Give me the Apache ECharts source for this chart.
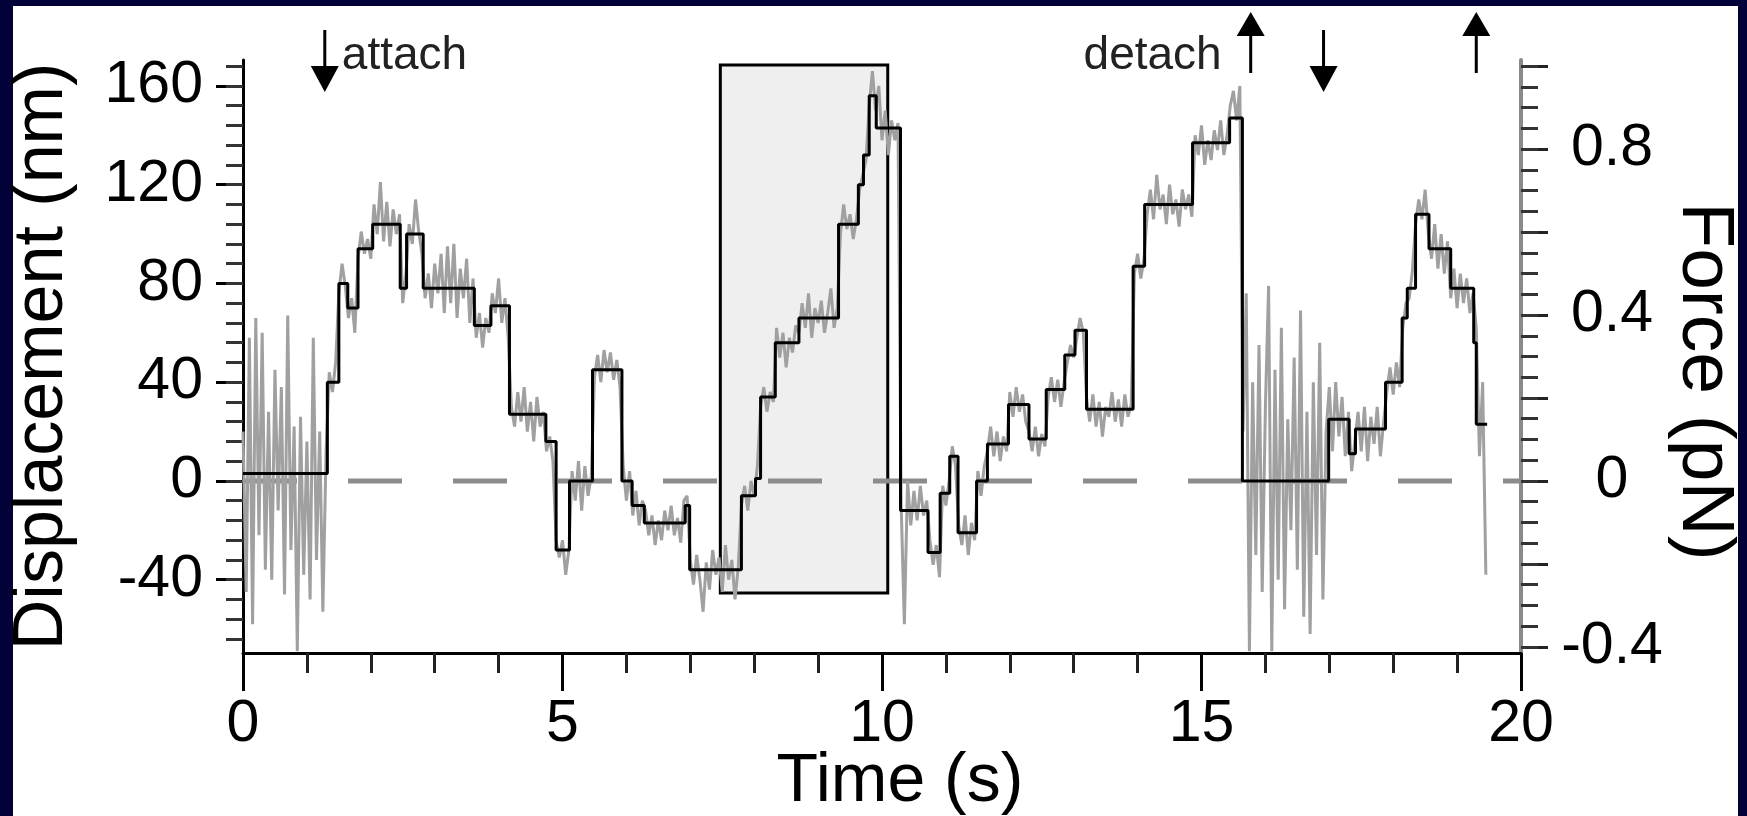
<!DOCTYPE html>
<html>
<head>
<meta charset="utf-8">
<script src="https://cdn.jsdelivr.net/npm/echarts@6/dist/echarts.min.js"></script>
<style>
  html, body { margin: 0; padding: 0; background: #020238; overflow: hidden; }
  #panel { position: absolute; left: 13px; top: 6px; width: 1725px; height: 810px; background: #ffffff; }
  #chart { position: absolute; left: 0; top: 0; width: 1747px; height: 816px; }
</style>
</head>
<body>
<div id="panel"></div>
<div id="chart"></div>
<script>
// Raw bead displacement (nm), sampled every 0.05 s from t = 0
const sampleStart = 0;
const sampleStep = 0.05;
const rawDisplacement = [
  20, -45, 58, -58, 66, -22, 60, -36, 28, -40,
  45, -12, 38, -46, 67, -28, 22, -69, 26, -38,
  16, -48, 58, -32, 20, -53, 12, 44, 36, 48,
  76, 88, 79, 66, 74, 60, 90, 101, 92, 98,
  90, 112, 100, 121, 97, 113, 95, 110, 100, 108,
  72, 84, 104, 96, 114, 101, 92, 74, 84, 70,
  88, 76, 92, 68, 95, 72, 96, 66, 86, 74,
  90, 64, 82, 58, 68, 54, 66, 60, 76, 68,
  82, 64, 74, 58, 30, 22, 36, 24, 38, 20,
  32, 16, 34, 22, 28, 12, 18, 8, -24, -31,
  -24, -38, -28, 4, -8, 8, -12, 6, -6, 2,
  42, 51, 40, 53, 44, 52, 41, 49, 38, 6,
  -8, 4, -14, -4, -18, -8, -12, -22, -14, -26,
  -16, -24, -12, -20, -10, -22, -15, -25, -8, -6,
  -32, -42, -30, -40, -53, -33, -44, -28, -38, -31,
  -45, -26, -40, -32, -48, -35, -10, -2, -12, 0,
  -6, 6, 30, 38, 28, 36, 32, 62, 50, 60,
  46, 58, 52, 63, 60, 72, 62, 76, 58, 70,
  64, 73, 60, 68, 78, 62, 70, 100, 112, 102,
  108, 98, 106, 118, 124, 130, 152, 166, 150, 160,
  138, 150, 132, 146, 138, 145, -10, -58, 0, -18,
  -4, -16, -2, -14, -8, -24, -34, -26, -39, -2,
  -10, 0, 14, 6, -18, -26, -14, -30, -17, -24,
  4, -6, 6, 12, 22, 10, 20, 8, 18, 12,
  36, 26, 38, 28, 35, 24, 20, 12, 22, 10,
  19, 14, 34, 42, 32, 41, 30, 40, 48, 55,
  50, 58, 66, 60, 34, 24, 35, 22, 32, 18,
  30, 26, 36, 24, 33, 22, 35, 26, 31, 84,
  92, 82, 90, 108, 118, 106, 124, 110, 116, 104,
  120, 108, 114, 103, 118, 110, 116, 107, 140, 132,
  144, 128, 138, 130, 142, 134, 146, 132, 140, 152,
  158, 146, 160, 20, 76, -69, 40, -30, 55, -45,
  30, 79, -69, 45, -40, 62, -52, 25, -20, 50,
  -36, 69, -55, 28, -62, 40, -30, 56, -48, 20,
  38, 12, 40, 18, 34, 10, 28, 4, 16, 28,
  12, 30, 8, 26, 15, 30, 10, 24, 36, 46,
  35, 48, 38, 62, 72, 74, 85, 104, 114, 106,
  118, 100, 90, 104, 86, 100, 84, 97, 74, 86,
  70, 84, 72, 82, 68, 76, 62, 10, 40, -38
];

// Step fit: each level starts at stepTimes[i] (s) and holds stepLevels[i] (nm)
const stepTimes = [
  0, 1.32, 1.50, 1.64, 1.80, 2.03, 2.46, 2.56, 2.82, 3.62,
  3.88, 4.17, 4.74, 4.90, 5.11, 5.47, 5.93, 6.09, 6.28, 6.92,
  6.99, 7.80, 8.02, 8.10, 8.33, 8.70, 9.32, 9.63, 9.71, 9.80,
  9.91, 10.29, 10.72, 10.91, 11.06, 11.19, 11.48, 11.65, 11.98, 12.30,
  12.57, 12.86, 13.02, 13.20, 13.93, 14.11, 14.86, 15.44, 15.64, 16.99,
  17.31, 17.41, 17.88, 18.14, 18.22, 18.35, 18.56, 18.90, 19.26, 19.30,
  19.47
];
const stepLevels = [
  3, 40, 80, 70, 94, 104, 78, 100, 78, 63,
  71, 27, 16, -28, 0, 45, 0, -10, -17, -10,
  -36, -6, 1, 34, 56, 66, 104, 120, 132, 156,
  143, -12, -29, -5, 10, -21, 0, 15, 31, 17,
  37, 51, 61, 29, 87, 112, 137, 147, 0, 25,
  11, 21, 40, 66, 78, 108, 94, 78, 56, 23,
  23
];

// Highlighted window (time span in s, displacement span in nm)
const windowTimes = [7.47, 10.09];
const windowDisp = [168.5, -45.4];

// Zero-displacement reference line
const baselineTimes = [0, 20];
const baselineDisp = [0, 0];

// Attachment / detachment events
const eventTimes = [1.28, 15.77, 16.91, 19.30];
const eventDirections = ['down', 'up', 'down', 'up'];
const eventLabels = ['attach', 'detach', '', ''];

// Axes
const dispRange = [-69.7, 170.5];
const dispLabelTicks = [-40, 0, 40, 80, 120, 160];
const dispMinorTicks = [-64, -56, -48, -40, -32, -24, -16, -8, 0, 8, 16, 24, 32, 40, 48,
  56, 64, 72, 80, 88, 96, 104, 112, 120, 128, 136, 144, 152, 160, 168];
const pNPerNm = 0.4 / 67.2; // trap stiffness
const forceMajorTicks = [-0.4, -0.2, 0, 0.2, 0.4, 0.6, 0.8, 1.0];
const forceLabelTicks = [-0.4, 0, 0.4, 0.8];
const forceMinorTicks = [-0.4, -0.35, -0.3, -0.25, -0.2, -0.15, -0.1, -0.05, 0, 0.05, 0.1,
  0.15, 0.2, 0.25, 0.3, 0.35, 0.4, 0.45, 0.5, 0.55, 0.6, 0.65, 0.7, 0.75, 0.8, 0.85, 0.9,
  0.95, 1.0];
const timeRange = [0, 20];
const timeLabelStep = 5;

const FONT = 'Liberation Sans, Arial, Helvetica, sans-serif';

const rawSeries = rawDisplacement.map((v, i) => [sampleStart + i * sampleStep, v]);
const stepSeries = stepTimes.map((t, i) => [t, stepLevels[i]]);
const baselineSeries = baselineTimes.map((t, i) => [t, baselineDisp[i]]);
const forceRange = dispRange.map(v => v * pNPerNm);

const chart = echarts.init(document.getElementById('chart'), null, { renderer: 'canvas' });

const tickLabelStyle = { fontSize: 59, lineHeight: 59, color: '#000', fontFamily: FONT };

chart.setOption({
  animation: false,
  textStyle: { fontFamily: FONT },
  grid: { left: 243, right: 226, top: 60, bottom: 163, containLabel: false, outerBoundsMode: 'none' },
  xAxis: {
    type: 'value',
    min: timeRange[0],
    max: timeRange[1],
    interval: timeLabelStep,
    axisLine: { onZero: false, lineStyle: { color: '#000', width: 3 } },
    axisTick: { length: 38, lineStyle: { color: '#000', width: 3 } },
    minorTick: { show: true, splitNumber: 5, length: 20, lineStyle: { color: '#222', width: 3 } },
    splitLine: { show: false },
    minorSplitLine: { show: false },
    axisLabel: Object.assign({ margin: 42 }, tickLabelStyle),
    name: 'Time (s)',
    nameLocation: 'middle',
    nameGap: 95,
    nameMoveOverlap: false,
    nameTextStyle: { fontSize: 68, lineHeight: 68, color: '#000', fontFamily: FONT, padding: [0, 0, 0, 36] }
  },
  yAxis: [
    {
      type: 'value',
      position: 'left',
      min: dispRange[0],
      max: dispRange[1],
      axisLine: { show: true, onZero: false, lineStyle: { color: '#000', width: 3 } },
      axisTick: { show: true, length: 27, customValues: dispLabelTicks, lineStyle: { color: '#000', width: 3 } },
      axisLabel: Object.assign({ margin: 40, customValues: dispLabelTicks, formatter: v => String(v) }, tickLabelStyle),
      splitLine: { show: false },
      name: 'Displacement (nm)',
      nameLocation: 'middle',
      nameGap: 165,
      nameMoveOverlap: false,
      nameTextStyle: { fontSize: 70, lineHeight: 70, color: '#000', fontFamily: FONT }
    },
    {
      type: 'value',
      position: 'left',
      min: dispRange[0],
      max: dispRange[1],
      axisLine: { show: false },
      axisTick: { show: true, length: 17, customValues: dispMinorTicks, lineStyle: { color: '#333', width: 3 } },
      axisLabel: { show: false },
      splitLine: { show: false }
    },
    {
      type: 'value',
      position: 'right',
      min: forceRange[0],
      max: forceRange[1],
      axisLine: { show: true, onZero: false, lineStyle: { color: '#8a8a8a', width: 4 } },
      axisTick: { show: true, length: 27, customValues: forceMajorTicks, lineStyle: { color: '#222', width: 3 } },
      axisLabel: Object.assign({
        margin: 91, align: 'center', customValues: forceLabelTicks,
        formatter: v => String(Math.round(v * 10) / 10)
      }, tickLabelStyle),
      splitLine: { show: false },
      name: 'Force (pN)',
      nameLocation: 'middle',
      nameRotate: -90,
      nameGap: 145,
      nameMoveOverlap: false,
      nameTextStyle: { fontSize: 75, lineHeight: 75, color: '#000', fontFamily: FONT, padding: [0, 0, 0, 50] }
    },
    {
      type: 'value',
      position: 'right',
      min: forceRange[0],
      max: forceRange[1],
      axisLine: { show: false },
      axisTick: { show: true, length: 17, customValues: forceMinorTicks, lineStyle: { color: '#333', width: 3 } },
      axisLabel: { show: false },
      splitLine: { show: false }
    }
  ],
  series: [
    {
      name: 'baseline',
      type: 'line',
      yAxisIndex: 0,
      data: baselineSeries,
      showSymbol: false,
      silent: true,
      z: 1,
      lineStyle: { color: '#8c8c8c', width: 5, type: [54, 51], dashOffset: 0 },
      markArea: {
        silent: true,
        itemStyle: { color: '#efefef', borderColor: '#000', borderWidth: 3 },
        data: [[
          { coord: [windowTimes[0], windowDisp[0]] },
          { coord: [windowTimes[1], windowDisp[1]] }
        ]]
      }
    },
    {
      name: 'raw',
      type: 'line',
      yAxisIndex: 0,
      data: rawSeries,
      showSymbol: false,
      silent: true,
      z: 2,
      lineStyle: { color: '#a0a0a0', width: 3 }
    },
    {
      name: 'steps',
      type: 'line',
      yAxisIndex: 0,
      data: stepSeries,
      step: 'end',
      showSymbol: false,
      silent: true,
      z: 3,
      lineStyle: { color: '#000', width: 3 }
    }
  ]
});

// Event arrows above the plot, placed on the time axis
function drawEvents() {
  const els = [];
  const half = 14;
  eventTimes.forEach((t, i) => {
    const x = chart.convertToPixel({ xAxisIndex: 0 }, t);
    if (eventDirections[i] === 'down') {
      els.push({ type: 'line', z: 100, shape: { x1: x, y1: 30, x2: x, y2: 70 }, style: { stroke: '#000', lineWidth: 3 } });
      els.push({ type: 'polygon', z: 100, shape: { points: [[x - half, 66], [x + half, 66], [x, 92]] }, style: { fill: '#000' } });
    } else {
      els.push({ type: 'line', z: 100, shape: { x1: x, y1: 34, x2: x, y2: 73 }, style: { stroke: '#000', lineWidth: 3 } });
      els.push({ type: 'polygon', z: 100, shape: { points: [[x - half, 36], [x + half, 36], [x, 12]] }, style: { fill: '#000' } });
    }
    if (eventLabels[i]) {
      const isLeft = eventDirections[i] === 'up';
      els.push({
        type: 'text', z: 100,
        x: isLeft ? x - 29 : x + 17,
        y: 33,
        style: {
          text: eventLabels[i], fontSize: 46, lineHeight: 46, fontFamily: FONT, fill: '#222',
          align: isLeft ? 'right' : 'left', verticalAlign: 'top'
        }
      });
    }
  });
  chart.setOption({ graphic: els });
}
drawEvents();
</script>
</body>
</html>
